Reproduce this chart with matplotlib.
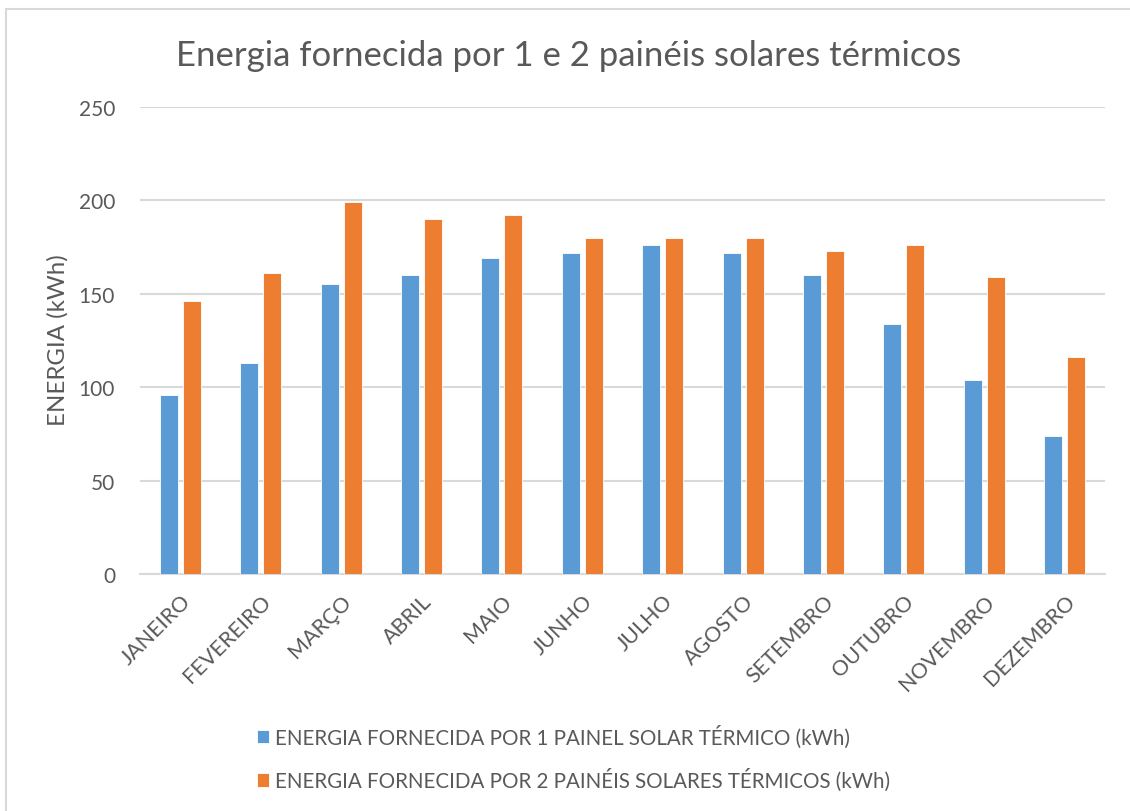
"""
Energia fornecida por 1 e 2 painéis solares térmicos - gráfico de barras mensal
"""

import numpy as np
import matplotlib.pyplot as plt
from matplotlib.patches import Rectangle

plt.rcParams['font.family'] = ['Lato', 'DejaVu Sans']

meses = ['JANEIRO', 'FEVEREIRO', 'MARÇO', 'ABRIL', 'MAIO', 'JUNHO', 'JULHO',
         'AGOSTO', 'SETEMBRO', 'OUTUBRO', 'NOVEMBRO', 'DEZEMBRO']
um_painel = [96, 113, 155, 160, 169, 172, 176, 172, 160, 134, 104, 74]
dois_paineis = [146, 161, 199, 190, 192, 180, 180, 180, 173, 176, 159, 116]

label_1 = 'ENERGIA FORNECIDA POR 1 PAINEL SOLAR TÉRMICO (kWh)'
label_2 = 'ENERGIA FORNECIDA POR 2 PAINÉIS SOLARES TÉRMICOS (kWh)'

azul = '#5B9BD5'
laranja = '#ED7D31'
texto = '#595959'
grade = '#D9D9D9'

fig = plt.figure(figsize=(11.3, 8.12), dpi=100)
ax = fig.add_axes([140 / 1130, 1 - 575 / 812, 965 / 1130, 467 / 812])

x = np.arange(len(meses))
w = 0.224
off = 0.143
b1 = ax.bar(x - off, um_painel, w, color=azul, edgecolor='white', linewidth=0.6,
            label=label_1, zorder=3)
b2 = ax.bar(x + off, dois_paineis, w, color=laranja, edgecolor='white', linewidth=0.6,
            label=label_2, zorder=3)

ax.set_xlim(-0.5, len(meses) - 0.5)
ax.set_ylim(0, 250)
ax.set_yticks(range(0, 251, 50))
ax.yaxis.grid(True, color=grade, linewidth=1.5, zorder=0)
for s in ['top', 'right', 'left']:
    ax.spines[s].set_visible(False)
ax.spines['bottom'].set_color(grade)
ax.spines['bottom'].set_linewidth(1.5)
ax.tick_params(axis='both', length=0, colors=texto)
ax.tick_params(axis='y', pad=18, labelsize=15)

ax.set_xticks(x)
ax.set_xticklabels(meses, rotation=45, ha='right', va='top',
                   rotation_mode='anchor', color=texto, fontsize=15.5)
ax.tick_params(axis='x', pad=12)

ax.set_ylabel('ENERGIA (kWh)', fontsize=17.3, color=texto)
ax.yaxis.set_label_coords(-0.074, 0.502)

fig.text(569 / 1130, 1 - 56 / 812, 'Energia fornecida por 1 e 2 painéis solares térmicos',
         ha='center', va='center', fontsize=25, color=texto)

fig.legend(handles=[b1, b2], loc='upper left', bbox_to_anchor=(238 / 1130, 1 - 707 / 812),
           frameon=False, fontsize=14.8, labelcolor=texto, handlelength=0.62,
           handleheight=0.62, handletextpad=0.3, labelspacing=1.0)

# moldura do gráfico
fig.patches.append(Rectangle((6 / 1130, -0.1), 1.2, 1 - 10 / 812 + 0.1,
                             transform=fig.transFigure, fill=False,
                             edgecolor=grade, linewidth=1.5))

plt.savefig('out.png', dpi=100)
